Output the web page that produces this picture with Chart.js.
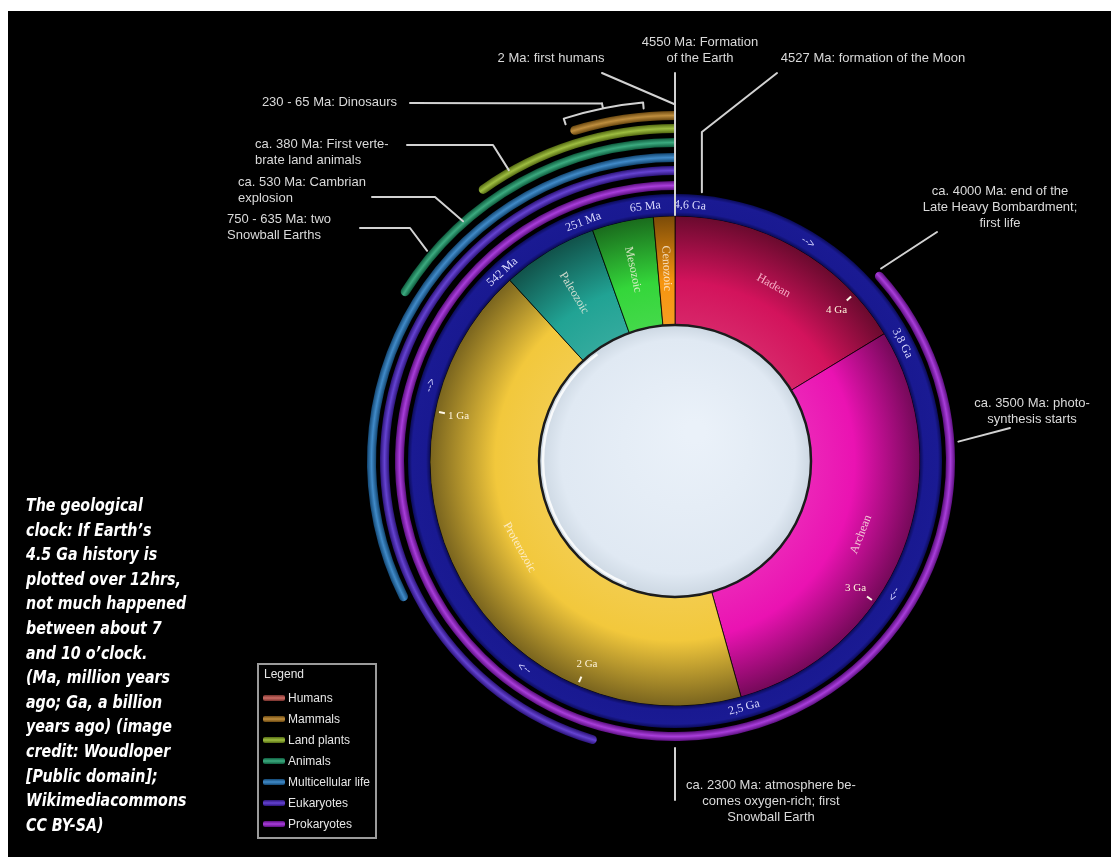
<!DOCTYPE html>
<html lang="en">
<head>
<meta charset="utf-8">
<title>Geological clock</title>
<script src="https://cdn.jsdelivr.net/npm/chart.js@4.4.1/dist/chart.umd.min.js"></script>
<style>
  html, body { margin: 0; padding: 0; width: 1111px; height: 857px; overflow: hidden; background: #fff; }
  #stage { position: absolute; left: 8px; top: 11px; width: 1103px; height: 846px; background: #000; }
  #clock { position: absolute; left: 0; top: 0; }
  #caption { position: absolute; left: 26px; top: 493px; color: #fff; white-space: pre;
    font: italic bold 18px/24.6px "Liberation Sans Narrow", "DejaVu Sans Condensed", sans-serif;
    transform: scaleX(0.88); transform-origin: 0 0; }
  #legend { position: absolute; left: 257px; top: 663px; width: 116px; height: 172px;
    border: 2px solid #9b9b9b; color: #e6e6e6; font: 12px/16px "Liberation Sans", Arial, sans-serif; }
  #legend .lg-title { position: absolute; left: 5px; top: 1px; }
  #legend .lg-item { position: absolute; left: 29px; white-space: nowrap; }
  #legend .lg-sw { position: absolute; left: -25px; top: 5px; width: 22px; height: 6px; border-radius: 2px; }
</style>
</head>
<body>
<div id="stage"></div>
<canvas id="clock" width="1111" height="857"></canvas>
<div id="caption">The geological
clock: If Earth’s
4.5 Ga history is
plotted over 12hrs,
not much happened
between about 7
and 10 o’clock.
(Ma, million years
ago; Ga, a billion
years ago) (image
credit: Woudloper
[Public domain];
Wikimediacommons
CC BY-SA)</div>
<div id="legend"></div>
<script>
// ── data (Ma = million years ago) ──
const TOTAL_MA = 4600;

// eons, clockwise from 12 o'clock
const eonNames  = ['Hadean', 'Archean', 'Proterozoic', 'Paleozoic', 'Mesozoic', 'Cenozoic'];
const eonFromMa = [4600, 3850, 2500, 542, 251, 65];
const eonToMa   = [3850, 2500, 542, 251, 65, 0];

// life rings, outermost first; each runs from its start to the present
const lifeGroups  = ['Humans', 'Mammals', 'Land plants', 'Animals', 'Multicellular life', 'Eukaryotes', 'Prokaryotes'];
const lifeSinceMa = [2, 225, 460, 750, 1500, 2100, 4000];

// time ring ticks
const tickMa     = [4600, 4000, 3800, 3000, 2500, 2000, 1000, 542, 251, 65];
const tickLabels = ['4,6 Ga', '4 Ga', '3,8 Ga', '3 Ga', '2,5 Ga', '2 Ga', '1 Ga', '542 Ma', '251 Ma', '65 Ma'];
const arrowMa    = [4200, 3050, 1840, 930];

// events
const dinoMa   = [230, 65];
const noteMa   = [4600, 2, 4527, 230, 380, 530, 635, 4000, 3500, 2300];
const noteText = [
  ['4550 Ma: Formation', 'of the Earth'],
  ['2 Ma: first humans'],
  ['4527 Ma: formation of the Moon'],
  ['230 - 65 Ma: Dinosaurs'],
  ['ca. 380 Ma: First verte-', 'brate land animals'],
  ['ca. 530 Ma: Cambrian', 'explosion'],
  ['750 - 635 Ma: two', 'Snowball Earths'],
  ['ca. 4000 Ma: end of the', 'Late Heavy Bombardment;', 'first life'],
  ['ca. 3500 Ma: photo-', 'synthesis starts'],
  ['ca. 2300 Ma: atmosphere be-', 'comes oxygen-rich; first', 'Snowball Earth'],
];

// ── style / layout ──
const eonColors  = ['#d3135c', '#ea12b2', '#f2c83c', '#21a394', '#34d63a', '#f6950f'];
const lifeColors = ['#c4524a', '#b47a1c', '#8db31f', '#199c69', '#1f77c0', '#4a22ca', '#9a1bd5'];
const LIFE_W = 9;
const gapAfter = [3, 4, 5, 6, 4, 6, 4];
const RING_W = 22, EON_W = 109;

const eonLabelR   = [201, 200, 178, 196, 196, 193];
const eonLabelRad = [false, false, false, true, true, true];
const tickOnRing  = [true, false, true, false, true, false, false, true, true, true];
const tickShift   = [15, 0, 0, 0, 0, 0, 0, 0, -6, -7];

const noteLayout = [
  { x: 700,  y: 42,  align: 'center', r: 246, up: 73 },
  { x: 551,  y: 58,  align: 'center', r: 357, via: [[602, 73]] },
  { x: 873,  y: 58,  align: 'center', r: 270, via: [[777, 73], [null, 132]] },
  { x: 397,  y: 102, align: 'right',  bracket: 360, via: [[410, 103]] },
  { x: 255,  y: 144, align: 'left',   r: 335, via: [[407, 145], [493, 145]] },
  { x: 238,  y: 182, align: 'left',   r: 320, via: [[372, 197], [435, 197]] },
  { x: 227,  y: 219, align: 'left',   r: 325, via: [[360, 228], [410, 228]] },
  { x: 1000, y: 191, align: 'center', r: 282, via: [[937, 232]] },
  { x: 1032, y: 403, align: 'center', r: 284, via: [[1010, 428]] },
  { x: 771,  y: 785, align: 'center', r: 287, down: 800 },
];

// ── helpers ──
function shade(hex, amt) {
  const n = parseInt(hex.slice(1), 16);
  let rgb = [(n >> 16) & 255, (n >> 8) & 255, n & 255];
  rgb = rgb.map(v => Math.round(amt < 0 ? v * (1 + amt) : v + (255 - v) * amt));
  return 'rgb(' + rgb.join(',') + ')';
}

// radial gradient spanning one ring of the doughnut
function ringGradient(c, stops) {
  const chart = c.chart;
  const ctrl = chart.getDatasetMeta(c.datasetIndex).controller;
  const area = chart.chartArea;
  if (!area || !ctrl.outerRadius) return stops[Math.floor(stops.length / 2)][1];
  const cx = (area.left + area.right) / 2 + (ctrl.offsetX || 0);
  const cy = (area.top + area.bottom) / 2 + (ctrl.offsetY || 0);
  const g = chart.ctx.createRadialGradient(cx, cy, ctrl.innerRadius, cx, cy, ctrl.outerRadius);
  stops.forEach(s => g.addColorStop(s[0], s[1]));
  return g;
}

function tube(c, base) {
  return ringGradient(c, [[0, shade(base, -0.4)], [0.5, shade(base, 0.15)], [1, shade(base, -0.4)]]);
}

// ── datasets, outer ring first ──
const datasets = [];
lifeGroups.forEach((name, i) => {
  datasets.push({
    label: name,
    data: [TOTAL_MA - lifeSinceMa[i], lifeSinceMa[i]],
    weight: LIFE_W,
    backgroundColor: c => c.dataIndex === 1 ? tube(c, lifeColors[i]) : 'rgba(0,0,0,0)',
    borderRadius: c => c.dataIndex === 1 ? { outerStart: 4.5, innerStart: 4.5, outerEnd: 0, innerEnd: 0 } : 0,
  });
  datasets.push({ label: 'gap', data: [TOTAL_MA], weight: gapAfter[i], backgroundColor: 'rgba(0,0,0,0)' });
});
const RING_DS = datasets.length;
datasets.push({
  label: 'time',
  data: [TOTAL_MA],
  weight: RING_W,
  backgroundColor: c => ringGradient(c, [[0, '#0b0b58'], [0.18, '#191991'], [0.82, '#1a1a93'], [1, '#0b0b58']]),
});
const EON_DS = datasets.length;
datasets.push({
  label: 'eons',
  data: eonFromMa.map((f, i) => f - eonToMa[i]),
  weight: EON_W,
  backgroundColor: c => ringGradient(c, [[0, shade(eonColors[c.dataIndex], 0.08)],
    [0.4, eonColors[c.dataIndex]], [1, shade(eonColors[c.dataIndex], -0.5)]]),
  borderColor: 'rgba(0,0,0,0.75)',
  borderWidth: 1,
});

// ── geometry ──
function maToAngle(chart, ma) {
  return -Math.PI / 2 + (chart.options.rotation || 0) * Math.PI / 180 + (TOTAL_MA - ma) / TOTAL_MA * 2 * Math.PI;
}
function centre(chart) {
  const arc = chart.getDatasetMeta(EON_DS).data[0];
  return { x: arc.x, y: arc.y };
}
function polar(chart, ma, r) {
  const c = centre(chart), a = maToAngle(chart, ma);
  return { x: c.x + r * Math.cos(a), y: c.y + r * Math.sin(a) };
}
function upright(a) {
  while (a > Math.PI / 2) a -= Math.PI;
  while (a <= -Math.PI / 2) a += Math.PI;
  return a;
}
function rotText(ctx, txt, x, y, rot) {
  ctx.save(); ctx.translate(x, y); ctx.rotate(rot); ctx.fillText(txt, 0, 0); ctx.restore();
}

// ── white disc in the hole ──
const centreDisc = {
  id: 'centreDisc',
  afterDatasetsDraw(chart) {
    const ctx = chart.ctx, c = centre(chart);
    const r = chart.getDatasetMeta(EON_DS).controller.innerRadius;
    ctx.save();
    const g = ctx.createRadialGradient(c.x + 20, c.y - 30, 10, c.x, c.y, r);
    g.addColorStop(0, '#eaf1f9');
    g.addColorStop(0.85, '#e0e9f3');
    g.addColorStop(1, '#ccd7e2');
    ctx.beginPath(); ctx.arc(c.x, c.y, r, 0, Math.PI * 2);
    ctx.fillStyle = g; ctx.fill();
    ctx.lineWidth = 2.5; ctx.strokeStyle = '#1c1c1c'; ctx.stroke();
    ctx.beginPath(); ctx.arc(c.x, c.y, r - 4, Math.PI * 0.62, Math.PI * 1.3);
    ctx.lineWidth = 2.5; ctx.strokeStyle = 'rgba(255,255,255,0.85)'; ctx.stroke();
    ctx.restore();
  }
};

// ── eon names, time ticks, arrows ──
const clockText = {
  id: 'clockText',
  afterDatasetsDraw(chart) {
    const ctx = chart.ctx, c = centre(chart);
    const ring = chart.getDatasetMeta(RING_DS).controller;
    const ringR = (ring.innerRadius + ring.outerRadius) / 2;
    const eonOuter = chart.getDatasetMeta(EON_DS).controller.outerRadius;
    ctx.save();
    ctx.textAlign = 'center'; ctx.textBaseline = 'middle';

    // eon names
    ctx.font = '12px "Liberation Serif", "DejaVu Serif", serif';
    chart.getDatasetMeta(EON_DS).data.forEach((arc, i) => {
      const mid = (arc.startAngle + arc.endAngle) / 2;
      const r = eonLabelR[i];
      const rot = eonLabelRad[i] ? upright(mid + Math.PI) : upright(mid + Math.PI / 2);
      ctx.fillStyle = i === 0 ? 'rgba(255,190,210,0.9)' : 'rgba(255,244,230,0.8)';
      rotText(ctx, eonNames[i], c.x + r * Math.cos(mid), c.y + r * Math.sin(mid), rot);
    });

    // ticks
    tickMa.forEach((ma, i) => {
      const a = maToAngle(chart, ma);
      if (tickOnRing[i]) {
        const aa = a + tickShift[i] / ringR;
        ctx.font = '12px "Liberation Serif", "DejaVu Serif", serif';
        ctx.fillStyle = '#dcdcff';
        rotText(ctx, tickLabels[i], c.x + ringR * Math.cos(aa), c.y + ringR * Math.sin(aa), upright(aa + Math.PI / 2));
      } else {
        ctx.beginPath();
        ctx.moveTo(c.x + (eonOuter - 10) * Math.cos(a), c.y + (eonOuter - 10) * Math.sin(a));
        ctx.lineTo(c.x + (eonOuter - 4) * Math.cos(a), c.y + (eonOuter - 4) * Math.sin(a));
        ctx.lineWidth = 2; ctx.strokeStyle = '#fff8e8'; ctx.stroke();
        ctx.font = '11px "Liberation Serif", "DejaVu Serif", serif';
        ctx.fillStyle = '#fff4dc';
        const r = eonOuter - 24;
        ctx.fillText(tickLabels[i], c.x + r * Math.cos(a), c.y + r * Math.sin(a));
      }
    });

    // direction arrows on the time ring
    ctx.font = '11px "Liberation Sans", Arial, sans-serif';
    ctx.fillStyle = '#d0d0ff';
    arrowMa.forEach(ma => {
      const a = maToAngle(chart, ma);
      rotText(ctx, '-->', c.x + ringR * Math.cos(a), c.y + ringR * Math.sin(a), a + Math.PI / 2);
    });
    ctx.restore();
  }
};

// ── event notes with leader lines ──
const notes = {
  id: 'notes',
  afterDraw(chart) {
    const ctx = chart.ctx, c = centre(chart);
    ctx.save();
    ctx.strokeStyle = '#d2d2d2'; ctx.lineWidth = 2; ctx.lineJoin = 'round'; ctx.lineCap = 'round';

    noteMa.forEach((ma, i) => {
      const L = noteLayout[i];
      let end;
      if (L.bracket) {
        // brace over the dinosaur span
        const a1 = maToAngle(chart, dinoMa[0]), a2 = maToAngle(chart, dinoMa[1]);
        const r = L.bracket, am = (a1 + a2) / 2;
        ctx.beginPath();
        ctx.moveTo(c.x + (r - 6) * Math.cos(a1), c.y + (r - 6) * Math.sin(a1));
        ctx.lineTo(c.x + r * Math.cos(a1), c.y + r * Math.sin(a1));
        ctx.arc(c.x, c.y, r, a1, a2);
        ctx.lineTo(c.x + (r - 6) * Math.cos(a2), c.y + (r - 6) * Math.sin(a2));
        ctx.moveTo(c.x + r * Math.cos(am), c.y + r * Math.sin(am));
        ctx.lineTo(c.x + (r + 5) * Math.cos(am), c.y + (r + 5) * Math.sin(am));
        ctx.stroke();
        end = { x: c.x + (r + 5) * Math.cos(am), y: c.y + (r + 5) * Math.sin(am) };
      } else {
        end = polar(chart, ma, L.r);
      }
      ctx.beginPath();
      if (L.up !== undefined) {
        ctx.moveTo(end.x, L.up); ctx.lineTo(end.x, end.y);
      } else if (L.down !== undefined) {
        ctx.moveTo(end.x, end.y); ctx.lineTo(end.x, L.down);
      } else {
        L.via.forEach((p, k) => {
          const x = p[0] === null ? end.x : p[0];
          if (k === 0) ctx.moveTo(x, p[1]); else ctx.lineTo(x, p[1]);
        });
        ctx.lineTo(end.x, end.y);
      }
      ctx.stroke();
    });

    ctx.font = '13px "Liberation Sans", Arial, sans-serif';
    ctx.fillStyle = '#dadada';
    ctx.textBaseline = 'middle';
    noteText.forEach((lines, i) => {
      const L = noteLayout[i];
      ctx.textAlign = L.align;
      lines.forEach((t, k) => ctx.fillText(t, L.x, L.y + k * 16));
    });
    ctx.restore();
  }
};

new Chart(document.getElementById('clock'), {
  type: 'doughnut',
  data: { labels: ['before', 'span'], datasets },
  options: {
    responsive: false,
    animation: false,
    events: [],
    radius: 362,
    cutout: 136,
    rotation: 0,
    layout: { padding: { left: 313, right: 74, top: 99, bottom: 34 } },
    elements: { arc: { borderWidth: 0, hoverOffset: 0, offset: 0 } },
    plugins: { legend: { display: false }, tooltip: { enabled: false } },
  },
  plugins: [centreDisc, clockText, notes],
});

// ── legend box ──
document.getElementById('legend').innerHTML =
  '<div class="lg-title">Legend</div>' +
  lifeGroups.map((name, i) =>
    '<div class="lg-item" style="top:' + (25 + i * 21) + 'px">' +
    '<span class="lg-sw" style="background:linear-gradient(' + shade(lifeColors[i], -0.4) + ',' +
    shade(lifeColors[i], 0.15) + ',' + shade(lifeColors[i], -0.4) + ')"></span>' + name + '</div>'
  ).join('');
</script>
</body>
</html>
